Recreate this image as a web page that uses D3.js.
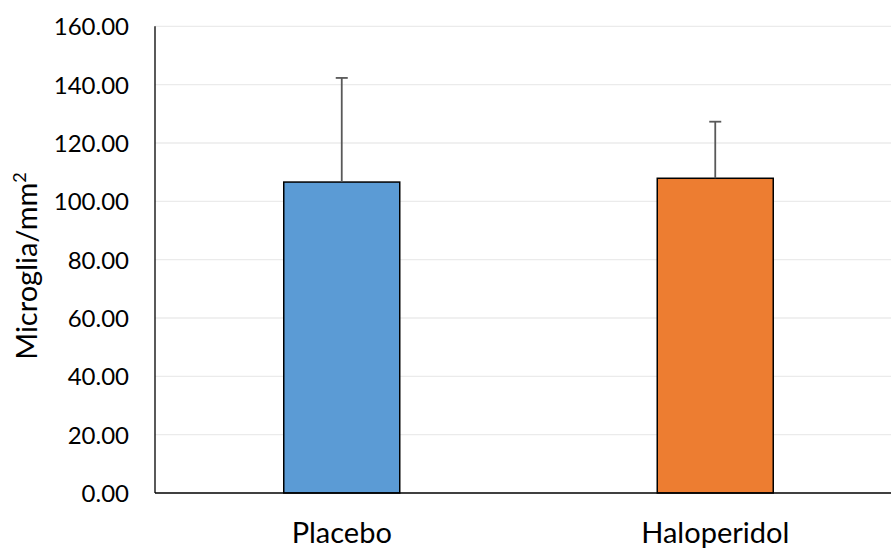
<!DOCTYPE html>
<html><head><meta charset="utf-8">
<script src="https://cdn.jsdelivr.net/npm/d3@7"></script>
<style>body{margin:0;background:#fff}svg{display:block}</style>
</head><body>
<svg id="c" width="891" height="549"></svg>
<script>
const categories = ["Placebo", "Haloperidol"];
const values = [106.6, 107.9];
const errors = [35.7, 19.4];
const colors = ["#5B9BD5", "#ED7D31"];
const yTicks = [0, 20, 40, 60, 80, 100, 120, 140, 160];

const svg = d3.select("#c");
const mLeft = 155, mRight = 902, mTop = 26.3, mBottom = 493;
const font = "Lato, 'Open Sans', sans-serif";

const x = d3.scaleBand().domain(categories).range([mLeft, mRight]).paddingInner(0.69).paddingOuter(0.345);
const y = d3.scaleLinear().domain([0, 160]).range([mBottom, mTop]);

// gridlines
svg.append("g").selectAll("line").data(yTicks.filter(d => d > 0)).join("line")
  .attr("x1", mLeft).attr("x2", 891).attr("y1", d => y(d)).attr("y2", d => y(d))
  .attr("stroke", "#ebebeb").attr("stroke-width", 1.3);

// y tick labels
svg.append("g").selectAll("text").data(yTicks).join("text")
  .attr("x", 129).attr("y", d => y(d)).attr("dy", "0.38em")
  .attr("text-anchor", "end").attr("font-family", font).attr("font-size", 24)
  .attr("fill", "#000").text(d => d.toFixed(2));

// bars
const bw = 116;
svg.append("g").selectAll("rect").data(categories).join("rect")
  .attr("x", d => x(d) + x.bandwidth() / 2 - bw / 2)
  .attr("width", bw)
  .attr("y", (d, i) => y(values[i]))
  .attr("height", (d, i) => y(0) - y(values[i]))
  .attr("fill", (d, i) => colors[i]).attr("stroke", "#000").attr("stroke-width", 1.5);

// error bars
const eg = svg.append("g").attr("stroke", "#595959").attr("stroke-width", 1.8);
categories.forEach((c, i) => {
  const cx = x(c) + x.bandwidth() / 2;
  eg.append("line").attr("x1", cx).attr("x2", cx).attr("y1", y(values[i])).attr("y2", y(values[i] + errors[i]));
  eg.append("line").attr("x1", cx - 6).attr("x2", cx + 6).attr("y1", y(values[i] + errors[i])).attr("y2", y(values[i] + errors[i]));
});

// axes lines
svg.append("line").attr("x1", mLeft).attr("x2", mLeft).attr("y1", mTop).attr("y2", mBottom).attr("stroke", "#000").attr("stroke-width", 1.3);
svg.append("line").attr("x1", mLeft).attr("x2", 891).attr("y1", mBottom).attr("y2", mBottom).attr("stroke", "#000").attr("stroke-width", 1.3);

// category labels
svg.append("g").selectAll("text").data(categories).join("text")
  .attr("x", d => x(d) + x.bandwidth() / 2).attr("y", 543)
  .attr("text-anchor", "middle").attr("font-family", font).attr("font-size", 29)
  .attr("fill", "#000").text(d => d);

// y axis title
const yt = svg.append("text").attr("transform", "translate(37,266) rotate(-90)")
  .attr("text-anchor", "middle").attr("font-family", font).attr("font-size", 29).attr("fill", "#000");
yt.append("tspan").text("Microglia/mm");
yt.append("tspan").attr("font-size", 18).attr("dy", -11).text("2");
</script>
</body></html>
